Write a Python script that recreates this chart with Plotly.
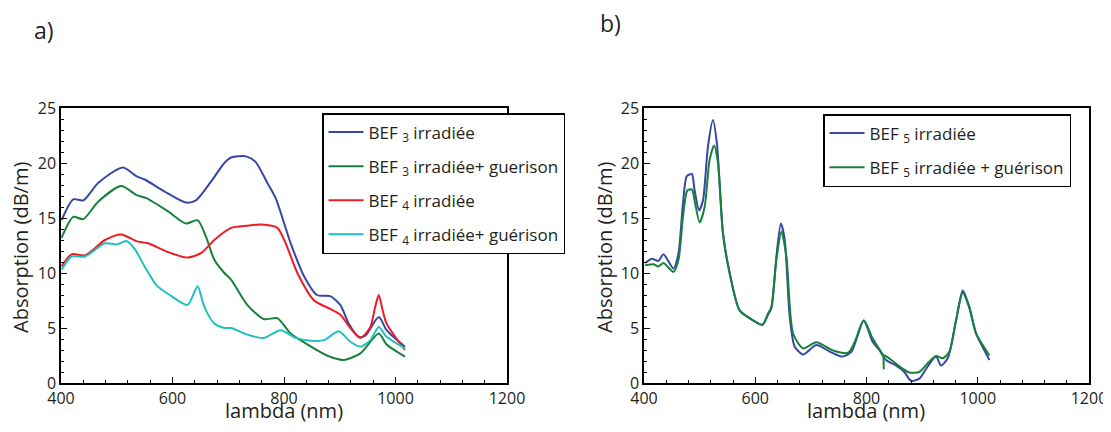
import plotly.graph_objects as go

# ---------------- data ----------------
# Panel a)
bef3_irr_x = [401, 422, 440, 467, 511, 535, 550, 586, 624, 642, 669, 693, 705, 732, 749, 770, 785, 812, 836, 859, 883, 901, 916, 934, 946, 970, 984, 1017]
bef3_irr_y = [14.8, 16.7, 16.6, 18.2, 19.6, 18.8, 18.5, 17.4, 16.4, 16.6, 18.3, 20.0, 20.5, 20.6, 20.1, 18.2, 16.8, 12.7, 9.7, 8.0, 7.9, 7.1, 5.4, 4.2, 4.3, 6.0, 4.8, 3.3]

bef3_gue_x = [401, 422, 440, 467, 508, 535, 553, 592, 624, 645, 660, 675, 693, 705, 734, 764, 788, 812, 842, 877, 907, 937, 970, 984, 1017]
bef3_gue_y = [13.2, 15.1, 14.9, 16.5, 17.9, 17.1, 16.8, 15.6, 14.5, 14.8, 13.3, 11.2, 10.0, 9.4, 7.1, 5.8, 5.9, 4.5, 3.5, 2.5, 2.1, 2.7, 4.5, 3.5, 2.4]

bef4_irr_x = [401, 419, 443, 479, 508, 535, 556, 592, 627, 651, 675, 705, 734, 759, 788, 803, 824, 854, 880, 901, 919, 937, 955, 963, 970, 977, 984, 1017]
bef4_irr_y = [10.6, 11.7, 11.6, 13.0, 13.5, 12.9, 12.7, 11.9, 11.4, 11.8, 13.0, 14.1, 14.3, 14.4, 14.1, 12.7, 10.0, 7.5, 6.8, 6.2, 5.0, 4.1, 5.1, 6.8, 8.0, 6.6, 5.4, 3.0]

bef4_gue_x = [401, 419, 443, 479, 500, 517, 532, 550, 571, 595, 627, 645, 654, 660, 675, 693, 705, 734, 764, 794, 821, 848, 872, 898, 919, 937, 955, 970, 984, 1017]
bef4_gue_y = [10.3, 11.5, 11.5, 12.7, 12.6, 12.9, 12.2, 10.6, 8.9, 8.0, 7.1, 8.8, 7.4, 6.6, 5.4, 5.0, 5.0, 4.4, 4.1, 4.8, 4.1, 3.85, 3.9, 4.7, 3.75, 3.3, 3.9, 5.1, 4.2, 3.15]

# Panel b)
bef5_irr_x = [402, 414, 426, 435, 453, 462, 470, 477, 486, 491, 499, 506, 515, 524, 531, 542, 554, 572, 596, 613, 623, 629, 638, 646, 653, 662, 671, 686, 710, 734, 757, 773, 795, 811, 823, 835, 853, 868, 880, 895, 910, 925, 934, 946, 961, 973, 985, 997, 1021]
bef5_irr_y = [10.9, 11.3, 11.1, 11.7, 10.4, 11.8, 16.3, 18.8, 19.0, 17.5, 15.7, 16.6, 21.5, 23.9, 21.8, 13.6, 10.0, 6.6, 5.7, 5.3, 6.3, 6.9, 11.5, 14.5, 13.0, 6.0, 3.3, 2.6, 3.45, 2.85, 2.4, 2.85, 5.67, 3.75, 3.0, 2.1, 1.6, 1.0, 0.2, 0.4, 1.5, 2.4, 1.6, 2.25, 5.7, 8.4, 6.9, 4.5, 2.1]

bef5_gue_x = [402, 417, 426, 435, 453, 462, 470, 478, 486, 492, 500, 509, 518, 526, 533, 542, 554, 572, 596, 613, 623, 629, 638, 647, 656, 668, 686, 710, 740, 767, 779, 795, 811, 826, 830, 831, 832, 847, 865, 877, 895, 910, 925, 937, 949, 961, 973, 985, 997, 1021]
bef5_gue_y = [10.7, 10.8, 10.6, 10.9, 10.1, 11.2, 15.1, 17.5, 17.6, 16.3, 14.6, 16.0, 20.3, 21.6, 20.0, 13.6, 10.0, 6.6, 5.7, 5.3, 6.2, 6.8, 11.2, 13.75, 11.5, 4.5, 3.15, 3.7, 2.95, 2.75, 3.75, 5.7, 4.05, 2.85, 2.5, 1.3, 2.5, 2.0, 1.3, 0.95, 1.0, 1.8, 2.45, 2.25, 2.85, 5.7, 8.2, 6.8, 4.5, 2.5]

x_ticks = [400, 600, 800, 1000, 1200]
y_ticks = [0, 5, 10, 15, 20, 25]

BLUE = "#3548a3"
GREEN = "#17813c"
RED = "#ec1c24"
CYAN = "#1fbfc2"
FONT = "Open Sans"
TXT = "#231f20"

fig = go.Figure()

def add(x, y, name, color, xa, ya, legend):
    fig.add_trace(go.Scatter(
        x=x, y=y, name=name, mode="lines", legendgroup=name,
        line=dict(color=color, width=2, shape="spline", smoothing=0.7),
        xaxis=xa, yaxis=ya, legend=legend))

add(bef3_irr_x, bef3_irr_y, "BEF <sub>3</sub> irradiée", BLUE, "x", "y", "legend")
add(bef3_gue_x, bef3_gue_y, "BEF <sub>3</sub> irradiée+ guerison", GREEN, "x", "y", "legend")
add(bef4_irr_x, bef4_irr_y, "BEF <sub>4</sub> irradiée", RED, "x", "y", "legend")
add(bef4_gue_x, bef4_gue_y, "BEF <sub>4</sub> irradiée+ guérison", CYAN, "x", "y", "legend")
add(bef5_irr_x, bef5_irr_y, "BEF <sub>5</sub> irradiée", BLUE, "x2", "y2", "legend2")
add(bef5_gue_x, bef5_gue_y, "BEF <sub>5</sub> irradiée + guérison", GREEN, "x2", "y2", "legend2")

# the page body has an 8px margin; work in screenshot pixels and convert
OFF = 8
W, H = 1111 - OFF, 432 - 2 * OFF
TOP, BOT = 108, 383          # plot area rows in screenshot pixels
T = TOP - OFF
B = H - (BOT - OFF)
ph = BOT - TOP

def xp(px):
    return (px - OFF) / W

def yp(py):
    return (BOT - py) / ph

axis_common = dict(
    showgrid=False, zeroline=False, showline=True, linecolor="black", linewidth=1.5,
    mirror=True, ticks="inside", ticklen=6, tickwidth=1, tickcolor="black",
    tickfont=dict(family=FONT, size=16, color=TXT), automargin=False,
    ticklabeloverflow="allow",
)
xcommon = dict(axis_common, range=[400, 1200], tickmode="array", tickvals=x_ticks,
               minor=dict(ticks="inside", dtick=40, ticklen=3, tickcolor="black", tick0=400))
ycommon = dict(axis_common, range=[0, 25], tickmode="array", tickvals=y_ticks,
               minor=dict(ticks="inside", dtick=1, ticklen=3, tickcolor="black", tick0=0))

# top / right major ticks only
mirror_common = dict(showgrid=False, zeroline=False, showline=False, ticks="inside",
                     ticklen=6, tickwidth=1, tickcolor="black", showticklabels=False,
                     automargin=False, tickmode="array")
xtop = dict(mirror_common, range=[400, 1200], tickvals=x_ticks, side="top")
yright = dict(mirror_common, range=[0, 25], tickvals=y_ticks, side="right")

legend_common = dict(
    bgcolor="white", bordercolor="black", borderwidth=1.5,
    font=dict(family=FONT, size=17, color=TXT),
    xanchor="left", yanchor="top", itemwidth=35, tracegroupgap=9,
)

d1 = [xp(61), xp(507)]
d2 = [xp(644), xp(1089)]

fig.update_layout(
    width=W, height=H, autosize=False,
    margin=dict(l=0, r=0, t=T, b=B, pad=0),
    paper_bgcolor="white", plot_bgcolor="white",
    xaxis=dict(xcommon, domain=d1, anchor="y"),
    yaxis=dict(ycommon, domain=[0, 1], anchor="x"),
    xaxis2=dict(xcommon, domain=d2, anchor="y2"),
    yaxis2=dict(ycommon, domain=[0, 1], anchor="x2"),
    xaxis3=dict(xtop, domain=d1, anchor="y", overlaying="x"),
    yaxis3=dict(yright, domain=[0, 1], anchor="x", overlaying="y"),
    xaxis4=dict(xtop, domain=d2, anchor="y2", overlaying="x2"),
    yaxis4=dict(yright, domain=[0, 1], anchor="x2", overlaying="y2"),
    legend=dict(legend_common, x=xp(322), y=yp(113)),
    legend2=dict(legend_common, x=xp(823), y=yp(114)),
    showlegend=True,
)

ann_font = dict(family=FONT, size=20, color=TXT)
annotations = [
    dict(text="a)", x=xp(44), y=yp(30), font=dict(family=FONT, size=23, color=TXT)),
    dict(text="b)", x=xp(610), y=yp(23), font=dict(family=FONT, size=23, color=TXT)),
    dict(text="Absorption (dB/m)", x=xp(21), y=yp(248), textangle=-90, font=ann_font),
    dict(text="Absorption (dB/m)", x=xp(605), y=yp(248), textangle=-90, font=ann_font),
    dict(text="lambda (nm)", x=xp(284), y=yp(410), font=ann_font),
    dict(text="lambda (nm)", x=xp(866), y=yp(410), font=ann_font),
]
for a in annotations:
    a.update(xref="paper", yref="paper", showarrow=False, xanchor="center", yanchor="middle")
fig.update_layout(annotations=annotations)

fig.write_html("out.html")
